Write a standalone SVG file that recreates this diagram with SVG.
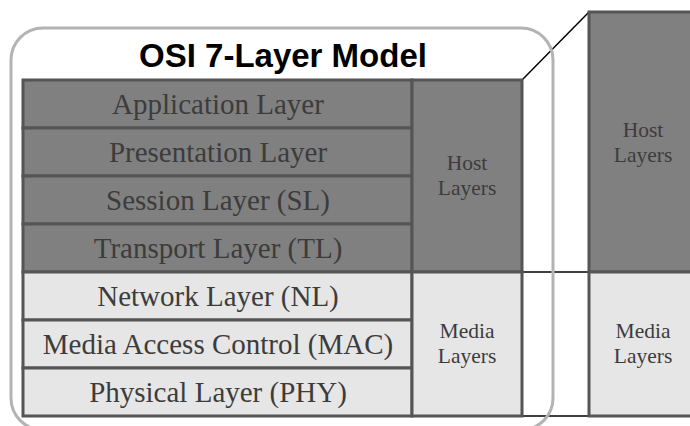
<svg xmlns="http://www.w3.org/2000/svg" width="690" height="426" viewBox="0 0 690 426">
<style>
.dark{fill:#808080;stroke:#555555;stroke-width:3}
.light{fill:#e6e6e6;stroke:#555555;stroke-width:3}
.lt{font-family:"Liberation Serif","Times New Roman",serif;font-size:29px;fill:#3c3c3c;text-anchor:middle}
.st{font-family:"Liberation Serif","Times New Roman",serif;font-size:21.5px;fill:#3c3c3c;text-anchor:middle}
.conn{stroke:#000;stroke-width:1.5;fill:none}
</style>
<rect width="690" height="426" fill="#fff"/>
<g id="connectors">
<line class="conn" x1="522" y1="80" x2="589" y2="12"/>
<line class="conn" x1="522" y1="272" x2="589" y2="272"/>
<line class="conn" x1="522" y1="416" x2="589" y2="416"/>
</g>
<g id="frame">
<rect x="11" y="28" width="542" height="402" rx="32" ry="32" fill="none" stroke="#b3b3b3" stroke-width="3"/>
<text x="283" y="67" font-family="Liberation Sans,Arial,sans-serif" font-size="33" font-weight="bold" text-anchor="middle" fill="#000">OSI 7-Layer Model</text>
</g>
<g id="application"><rect class="dark" x="23" y="80" width="389" height="48"/><text class="lt" x="218" y="114">Application Layer</text></g>
<g id="presentation"><rect class="dark" x="23" y="128" width="389" height="48"/><text class="lt" x="218" y="162">Presentation Layer</text></g>
<g id="session"><rect class="dark" x="23" y="176" width="389" height="48"/><text class="lt" x="218" y="210">Session Layer (SL)</text></g>
<g id="transport"><rect class="dark" x="23" y="224" width="389" height="48"/><text class="lt" x="218" y="258">Transport Layer (TL)</text></g>
<g id="network"><rect class="light" x="23" y="272" width="389" height="48"/><text class="lt" x="218" y="306">Network Layer (NL)</text></g>
<g id="mac"><rect class="light" x="23" y="320" width="389" height="48"/><text class="lt" x="218" y="354">Media Access Control (MAC)</text></g>
<g id="physical"><rect class="light" x="23" y="368" width="389" height="48"/><text class="lt" x="218" y="402">Physical Layer (PHY)</text></g>
<g id="host"><rect class="dark" x="412" y="80" width="110" height="192"/><text class="st" x="467" y="170">Host</text><text class="st" x="467" y="195">Layers</text></g>
<g id="media"><rect class="light" x="412" y="272" width="110" height="144"/><text class="st" x="467" y="338">Media</text><text class="st" x="467" y="363">Layers</text></g>
<g id="host2"><rect class="dark" x="589" y="12" width="110" height="260"/><text class="st" x="643" y="137">Host</text><text class="st" x="643" y="162">Layers</text></g>
<g id="media2"><rect class="light" x="589" y="272" width="110" height="144"/><text class="st" x="643" y="338">Media</text><text class="st" x="643" y="363">Layers</text></g>
</svg>
